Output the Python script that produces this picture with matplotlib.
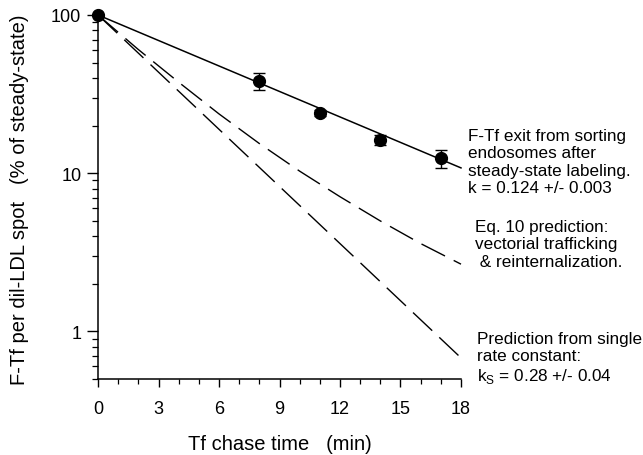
import matplotlib.pyplot as plt

plt.rcParams['font.family'] = ['Liberation Sans', 'DejaVu Sans']

# measured F-Tf exit (% of steady-state)
chase_min = [0, 8, 11, 14, 17]
ftf_pct = [100, 38.2, 24.1, 16.2, 12.4]
ftf_err = [0, 4.6, 1.0, 1.2, 1.6]

# fitted single exponential, k = 0.124
fit_min = [0, 18]
fit_pct = [100, 10.8]

# Eq. 10 prediction
eq10_min = [0, 2, 4, 6, 8, 10, 12, 14, 16, 18]
eq10_pct = [100, 60.5, 37.6, 23.7, 15.4, 10.3, 7.1, 4.99, 3.59, 2.66]

# single rate constant prediction, ks = 0.28
single_min = [0, 18]
single_pct = [100, 0.68]

fig = plt.figure(figsize=(6.43, 4.56), dpi=100)
ax = fig.add_axes([98 / 643, 1 - 380 / 456, (461 - 98) / 643, (380 - 16) / 456])

ax.plot(fit_min, fit_pct, color='black', lw=1.1, clip_on=False)
ax.plot(eq10_min, eq10_pct, color='black', lw=1.0, dashes=(19, 7), clip_on=False)
ax.plot(single_min, single_pct, color='black', lw=1.0, dashes=(19, 7), clip_on=False)
ax.errorbar(chase_min, ftf_pct, yerr=ftf_err, fmt='o', color='black', ms=8.5,
            capsize=4.5, elinewidth=1.0, capthick=1.0, clip_on=False, zorder=5)

ax.set_yscale('log')
ax.set_ylim(0.5, 100)
ax.set_xlim(0, 18)
ax.set_xticks(range(0, 19, 3))
ax.set_xticks(range(0, 19), minor=True)
ax.set_yticks([1, 10, 100])
ax.set_yticklabels(['1', '10', '100'])
ax.yaxis.set_minor_formatter(plt.NullFormatter())

for s in ['top', 'right']:
    ax.spines[s].set_visible(False)
for s in ['left', 'bottom']:
    ax.spines[s].set_linewidth(1.1)

ax.tick_params(axis='x', which='major', length=6, width=1.0, pad=9, labelsize=13)
ax.tick_params(axis='x', which='minor', length=3.5, width=0.9)
ax.tick_params(axis='y', which='major', length=8, width=1.0, pad=4, labelsize=13)
ax.tick_params(axis='y', which='minor', length=4.5, width=0.9)

ax.set_xlabel('Tf chase time   (min)', fontsize=14.5, labelpad=12)
fig.text(20 / 643, 1 - 200 / 456, 'F-Tf per dil-LDL spot   (% of steady-state)',
         rotation=90, fontsize=14.5, ha='center', va='center')

txt = dict(fontsize=12.3, ha='left', va='center', linespacing=1.22)
fig.text(468 / 643, 1 - 162.5 / 456,
         'F-Tf exit from sorting\nendosomes after\nsteady-state labeling.\nk = 0.124 +/- 0.003', **txt)
fig.text(475 / 643, 1 - 245 / 456,
         'Eq. 10 prediction:\nvectorial trafficking\n & reinternalization.', **txt)
fig.text(477 / 643, 1 - 359 / 456,
         'Prediction from single\nrate constant:\nk$_\\mathregular{S}$ = 0.28 +/- 0.04', **txt)

fig.savefig('out.png', dpi=100)
